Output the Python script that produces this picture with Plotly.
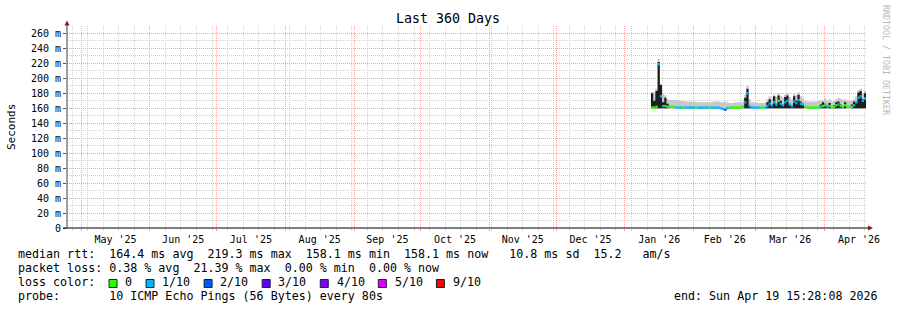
import plotly.graph_objects as go
import pandas as pd

# ---------------- data ----------------
title = "Last 360 Days"
range_start = "2025-04-24 15:28:08"
range_end = "2026-04-19 15:28:08"
data_start = "2026-01-12 18:00"

median_ms = [
    161, 161, 162, 219, 176, 163, 163, 162,
    162, 162, 162, 161, 161, 161, 161, 161, 161, 161,
    161, 161, 161, 161, 161, 161, 161, 161, 161, 161,
    161, 161, 161, 160, 159, 158, 160, 161, 161, 161,
    161, 161, 161, 162, 168, 180, 163, 161, 161, 161,
    161, 161, 161, 161, 163, 166, 164, 168, 165, 170,
    166, 164, 168, 170, 165, 163, 169, 167, 171, 166,
    165, 162, 161, 161, 161, 161, 161, 161, 162, 163,
    164, 162, 163, 161, 162, 164, 165, 163, 162, 164,
    162, 162, 162, 164, 168, 174, 176, 170, 173, 156,
]
smoke_top_ms = [
    182, 181, 186, 226, 193, 178, 177, 172,
    171, 171, 171, 171, 170, 170, 170, 169, 169, 169,
    169, 169, 168, 168, 168, 168, 168, 168, 168, 168,
    169, 169, 169, 168, 168, 169, 168, 167, 167, 168,
    168, 168, 168, 169, 178, 190, 172, 168, 168, 168,
    167, 167, 167, 168, 172, 176, 174, 178, 175, 180,
    176, 174, 178, 180, 175, 172, 179, 177, 181, 176,
    174, 170, 169, 169, 169, 169, 169, 170, 170, 171,
    173, 170, 172, 169, 170, 172, 174, 173, 171, 172,
    170, 170, 170, 172, 176, 184, 186, 180, 183, 175,
]
dark_top_ms = [
    180, 170, 183, 222, 191, 168, 174, 166,
    160, 160, 160, 160, 160, 160, 160, 160, 160, 160,
    160, 160, 160, 160, 160, 160, 160, 160, 160, 160,
    160, 160, 160, 160, 160, 160, 160, 160, 160, 160,
    160, 160, 160, 160, 174, 186, 163, 160, 160, 160,
    160, 160, 160, 160, 168, 172, 164, 176, 166, 177,
    170, 163, 175, 177, 166, 164, 176, 170, 178, 169,
    166, 160, 160, 160, 160, 160, 160, 160, 165, 168,
    166, 163, 167, 160, 164, 168, 169, 165, 163, 168,
    160, 160, 165, 169, 167, 181, 183, 172, 180, 168,
]
loss_idx = [
    0, 0, 0, 1, 1, 1, 0, 0,
    0, 0, 0, 1, 1, 1, 0, 1, 1, 1,
    1, 1, 0, 1, 1, 1, 1, 1, 0, 1,
    1, 1, 1, 1, 1, 2, 1, 0, 0, 0,
    0, 0, 0, 0, 1, 1, 1, 1, 1, 1,
    1, 0, 0, 1, 1, 1, 1, 1, 1, 0,
    1, 1, 1, 1, 1, 1, 1, 1, 1, 1,
    1, 0, 0, 0, 0, 0, 0, 0, 1, 0,
    0, 1, 0, 0, 0, 0, 1, 0, 0, 0,
    0, 0, 0, 1, 1, 1, 1, 1, 1, 0,
]
smoke_low_ms = 159
dark_low_ms = 160

loss_colors = ["#26ff00", "#00b8ff", "#0059ff", "#5e00ff", "#7e00ff", "#dd00ff", "#ff0000"]
loss_labels = ["0", "1/10", "2/10", "3/10", "4/10", "5/10", "9/10"]

y_tickvals = [0, 20, 40, 60, 80, 100, 120, 140, 160, 180, 200, 220, 240, 260]
y_ticktext = ["0", "20 m", "40 m", "60 m", "80 m", "100 m", "120 m", "140 m",
              "160 m", "180 m", "200 m", "220 m", "240 m", "260 m"]

line_rtt = "median rtt:  164.4 ms avg  219.3 ms max  158.1 ms min  158.1 ms now   10.8 ms sd  15.2   am/s"
line_loss = "packet loss: 0.38 % avg  21.39 % max  0.00 % min  0.00 % now"
line_color = "loss color:"
line_probe = "probe:       10 ICMP Echo Pings (56 Bytes) every 80s"
line_end = "end: Sun Apr 19 15:28:08 2026"
credit = "RRDTOOL / TOBI OETIKER"
ylabel = "Seconds"

# ---------------- layout constants ----------------
W, H = 897, 310
L, R, T, B = 67, 31, 26, 82
PW, PH = W - L - R, H - T - B
MONO = "DejaVu Sans Mono"
MAJOR = "#f2a6a6"
MINOR = "#d2d2d2"


def px(x):
    return (x - L) / PW


def py(y):
    return (T + PH - y) / PH


n = len(median_ms)
dates = pd.date_range(data_start, periods=n + 1, freq="D")

fig = go.Figure()
fig.add_trace(go.Scatter(x=dates[:n], y=[smoke_low_ms] * n, mode="lines",
                         line=dict(width=0, shape="hv"), hoverinfo="skip", showlegend=False))
fig.add_trace(go.Scatter(x=dates[:n], y=smoke_top_ms, mode="lines",
                         line=dict(width=0, shape="hv"), fill="tonexty", fillcolor="#c8c8c8",
                         hoverinfo="skip", showlegend=False))
fig.add_trace(go.Scatter(x=dates[:n], y=[dark_low_ms] * n, mode="lines",
                         line=dict(width=0, shape="hv"), hoverinfo="skip", showlegend=False))
fig.add_trace(go.Scatter(x=dates[:n], y=dark_top_ms, mode="lines",
                         line=dict(width=0, shape="hv"), fill="tonexty", fillcolor="#1e1e1e",
                         hoverinfo="skip", showlegend=False))

# median line, coloured per day by loss (horizontal segments)
for k, col in enumerate(loss_colors):
    xs, ys = [], []
    for i in range(n):
        if loss_idx[i] != k:
            continue
        xs += [dates[i], dates[i + 1], None]
        ys += [median_ms[i], median_ms[i], None]
    if xs:
        fig.add_trace(go.Scatter(x=xs, y=ys, mode="lines", line=dict(color=col, width=2.4),
                                 hoverinfo="skip", showlegend=False, connectgaps=False))

fig.update_layout(
    width=W, height=H,
    margin=dict(l=L, r=R, t=T, b=B, pad=0),
    paper_bgcolor="white", plot_bgcolor="white",
    showlegend=False,
    font=dict(family=MONO, size=10, color="black"),
    xaxis=dict(
        type="date", range=[range_start, range_end],
        tick0="2025-05-01", dtick="M1", tickformat="%b '%y", ticklabelmode="period",
        showgrid=True, gridcolor=MAJOR, griddash="1px,1px", gridwidth=1,
        ticks="outside", ticklen=2, tickcolor=MAJOR,
        tickfont=dict(family=MONO, size=10, color="black"),
        minor=dict(tick0="2025-04-27", dtick=7 * 86400000, showgrid=True, gridcolor=MINOR,
                   griddash="1px,1px", ticks="outside", ticklen=2, tickcolor=MINOR),
        showline=False, zeroline=False, fixedrange=True,
    ),
    yaxis=dict(
        range=[0, 270], tickvals=y_tickvals, ticktext=y_ticktext,
        showgrid=True, gridcolor=MAJOR, griddash="1px,1px", gridwidth=1,
        ticks="outside", ticklen=3, tickcolor="#555555",
        tickfont=dict(family=MONO, size=10, color="black"),
        minor=dict(dtick=10, showgrid=True, gridcolor=MINOR, griddash="1px,1px"),
        showline=False, zeroline=False, fixedrange=True,
    ),
)

shapes = []
shapes.append(dict(type="line", xref="paper", yref="paper", x0=px(67), x1=px(67), y0=py(228), y1=py(24),
                   line=dict(color="#404040", width=1)))
shapes.append(dict(type="line", xref="paper", yref="paper", x0=px(63), x1=px(869), y0=py(228), y1=py(228),
                   line=dict(color="black", width=1)))
shapes.append(dict(type="path", xref="paper", yref="paper",
                   path=f"M {px(64.5)} {py(25.5)} L {px(69.5)} {py(25.5)} L {px(67)} {py(20.5)} Z",
                   fillcolor="#8b1c1c", line=dict(width=0)))
shapes.append(dict(type="path", xref="paper", yref="paper",
                   path=f"M {px(868)} {py(225.5)} L {px(868)} {py(230.5)} L {px(873)} {py(228)} Z",
                   fillcolor="#8b1c1c", line=dict(width=0)))

annotations = []
annotations.append(dict(text=title, xref="paper", yref="paper", x=px(448), y=py(19),
                        xanchor="center", yanchor="middle", showarrow=False,
                        font=dict(family=MONO, size=13.3, color="black")))
annotations.append(dict(text=ylabel, xref="paper", yref="paper", x=px(11), y=py(127),
                        xanchor="center", yanchor="middle", showarrow=False, textangle=-90,
                        font=dict(family=MONO, size=11, color="black")))
annotations.append(dict(text=credit, xref="paper", yref="paper", x=px(886), y=py(60),
                        xanchor="center", yanchor="middle", showarrow=False, textangle=90,
                        font=dict(family=MONO, size=8.3, color="#b8b8b8")))

LEG = 11.66
CW = 7.02
for txt, yy in [(line_rtt, 254.3), (line_loss, 268.3), (line_color, 282.3), (line_probe, 296.3)]:
    annotations.append(dict(text=txt.replace(" ", "\u00a0"), xref="paper", yref="paper", x=px(16), y=py(yy),
                            xanchor="left", yanchor="middle", showarrow=False,
                            font=dict(family=MONO, size=LEG, color="black")))
annotations.append(dict(text=line_end.replace(" ", "\u00a0"), xref="paper", yref="paper", x=px(880.5), y=py(296.3),
                        xanchor="right", yanchor="middle", showarrow=False,
                        font=dict(family=MONO, size=LEG, color="black")))

xb = 109.0
for col, lab in zip(loss_colors, loss_labels):
    shapes.append(dict(type="rect", xref="paper", yref="paper",
                       x0=px(xb), x1=px(xb + 8), y0=py(287.5), y1=py(279.5),
                       fillcolor=col, line=dict(color="#202020", width=1)))
    annotations.append(dict(text=lab, xref="paper", yref="paper", x=px(xb + 14.3), y=py(282.3),
                            xanchor="left", yanchor="middle", showarrow=False,
                            font=dict(family=MONO, size=LEG, color="black")))
    xb += 30 + CW * len(lab)

fig.update_layout(shapes=shapes, annotations=annotations)
fig.write_html("out.html")
